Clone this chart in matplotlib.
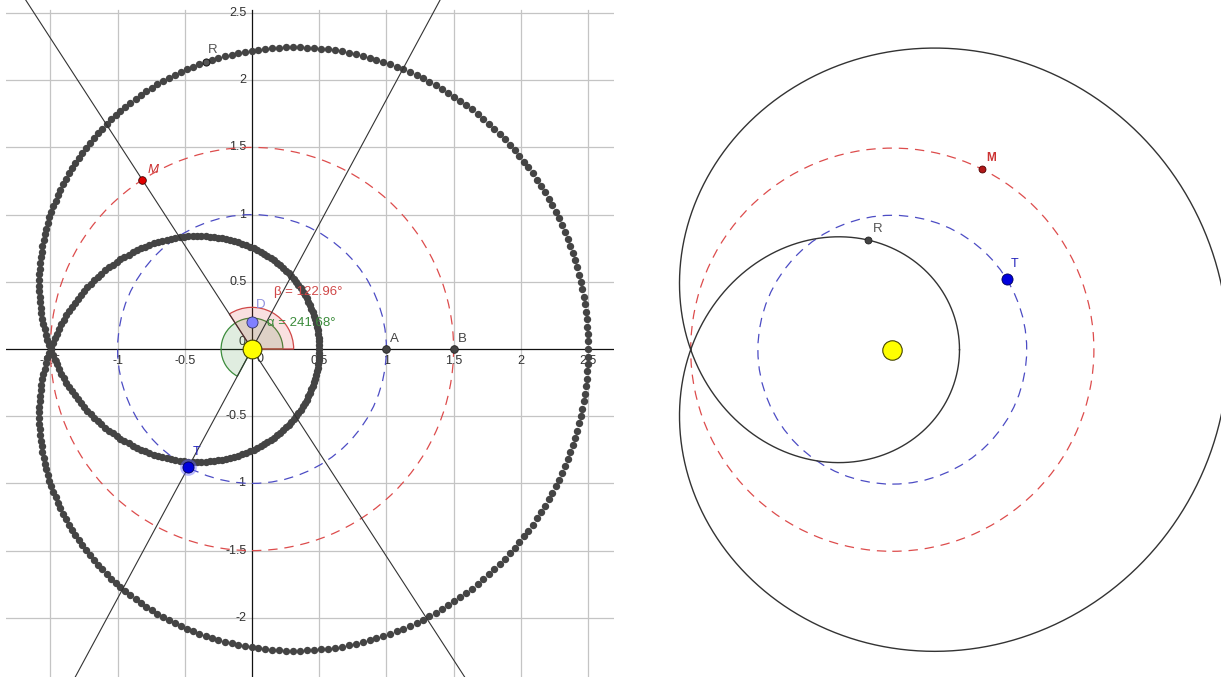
import numpy as np
import matplotlib
matplotlib.use("Agg")
import matplotlib.pyplot as plt
from matplotlib.patches import Circle, Wedge

plt.rcParams['font.family'] = ['Liberation Sans', 'DejaVu Sans']

# ---------------- data ----------------
earth_radius = 1.0          # blue dashed orbit (T)
mars_radius = 1.5           # red dashed orbit (M)
speed_ratio = 2.0           # Mars angle = 2 x Earth angle along the traced locus R = M - T

left_earth_deg = 241.68     # alpha
left_mars_deg = 122.96      # beta
right_earth_deg = 31.7
right_mars_deg = 63.5

point_A = (1.0, 0.0)
point_B = (1.5, 0.0)
point_D = (0.0, 0.2)

x_ticks = [-1.5, -1, -0.5, 0.5, 1, 1.5, 2, 2.5]
x_tick_labels = ['-1.5', '-1', '-0.5', '0.5', '1', '1.5', '2', '2.5']
y_ticks = [-2, -1.5, -1, -0.5, 0.5, 1, 1.5, 2, 2.5]
y_tick_labels = ['-2', '-1.5', '-1', '-0.5', '0.5', '1', '1.5', '2', '2.5']
grid_x = [-1.5, -1, -0.5, 0.5, 1, 1.5, 2, 2.5]
grid_y = [-2, -1.5, -1, -0.5, 0.5, 1, 1.5, 2, 2.5]

beta_label = 'β = 122.96°'
alpha_label = 'α = 241.68°'

# ---------------- styles ----------------
W, H = 1221, 677
S = 134.4  # px per unit
RED_D = '#dd4c4c'
BLUE_D = '#4c4cc4'
DASH = (0, (7.5, 5.5))
DOT = '#444444'

fig = plt.figure(figsize=(W / 100, H / 100), dpi=100)


def pol(r, deg):
    t = np.deg2rad(deg)
    return r * np.cos(t), r * np.sin(t)


def locus(step_deg):
    phi = np.arange(0, 360, step_deg)
    mx, my = pol(mars_radius, speed_ratio * phi)
    ex, ey = pol(earth_radius, phi)
    return mx - ex, my - ey


# ================= LEFT PANEL =================
lx0, lx1 = 6, 614
ox, oy = 252, 349
axL = fig.add_axes([lx0 / W, 0, (lx1 - lx0) / W, 1])
axL.set_xlim((lx0 - ox) / S, (lx1 - ox) / S)
axL.set_ylim((oy - H) / S, oy / S)
axL.axis('off')
ymin_l, ymax_l = (oy - H) / S, oy / S
xmin_l, xmax_l = (lx0 - ox) / S, (lx1 - ox) / S
gtop = 2.52

for gx in grid_x:
    axL.plot([gx, gx], [ymin_l, gtop], color='#c4c4c4', lw=0.9, zorder=1)
for gy in grid_y:
    axL.plot([xmin_l, xmax_l], [gy, gy], color='#c4c4c4', lw=0.9, zorder=1)
axL.plot([xmin_l, xmax_l], [0, 0], color='#111111', lw=0.9, zorder=2)
axL.plot([0, 0], [ymin_l, gtop], color='#111111', lw=0.9, zorder=2)

for v, s in zip(x_ticks, x_tick_labels):
    axL.annotate(s, (v, 0), xytext=(0, -9), textcoords='offset points',
                 ha='center', va='center', fontsize=9, color='#333333', zorder=3)
for v, s in zip(y_ticks, y_tick_labels):
    axL.annotate(s, (0, v), xytext=(-4, 0), textcoords='offset points',
                 ha='right', va='center', fontsize=9, color='#333333', zorder=3)
axL.annotate('0', (0, 0), xytext=(-7, 5), textcoords='offset points',
             ha='center', va='center', fontsize=9, color='#333333', zorder=3)
axL.annotate('0', (0, 0), xytext=(6, -7), textcoords='offset points',
             ha='center', va='center', fontsize=9, color='#333333', zorder=3)

# orbits
axL.add_patch(Circle((0, 0), earth_radius, fill=False, ec=BLUE_D, lw=0.9, ls=DASH, zorder=3))
axL.add_patch(Circle((0, 0), mars_radius, fill=False, ec=RED_D, lw=0.9, ls=DASH, zorder=3))

# angle sectors
axL.add_patch(Wedge((0, 0), 0.23, 0, left_earth_deg, fc=(0.2, 0.55, 0.2, 0.15),
                    ec='#3c8c3c', lw=0.9, zorder=4))
axL.add_patch(Wedge((0, 0), 0.31, 0, left_mars_deg, fc=(0.85, 0.2, 0.2, 0.15),
                    ec='#d04848', lw=0.9, zorder=4))

# traced locus (dots)
tx, ty = locus(0.8)
axL.plot(tx, ty, 'o', ms=5.3, color=DOT, mec=DOT, mew=0, zorder=5)

# lines through the Sun and M, the Sun and T
Tx, Ty = pol(earth_radius, left_earth_deg)
Mx, My = pol(mars_radius, left_mars_deg)
for px, py in [(Tx, Ty), (Mx, My)]:
    k = 10.0
    axL.plot([-k * px, k * px], [-k * py, k * py], color='#333333', lw=0.8, zorder=6)

# R = M - T
Rx, Ry = Mx - Tx, My - Ty
axL.plot(Rx, Ry, 'o', ms=5, mfc='#555555', mec='#222222', mew=0.8, zorder=8)
axL.annotate('R', (Rx, Ry), xytext=(5, 8), textcoords='offset points',
             ha='center', va='center', fontsize=9.5, color='#555555', zorder=9)

# M
axL.plot(Mx, My, 'o', ms=5.5, mfc='#e00000', mec='#400000', mew=0.6, zorder=8)
axL.annotate('M', (Mx, My), xytext=(8, 7), textcoords='offset points',
             ha='center', va='center', fontsize=9.5, color='#cc3333', style='italic', zorder=9)

# T
axL.plot(Tx, Ty, 'o', ms=12, mfc=(0.4, 0.4, 1.0, 0.45), mec='none', zorder=8)
axL.plot(Tx, Ty, 'o', ms=8, mfc='#0000dd', mec='#000055', mew=0.6, zorder=9)
axL.annotate('T', (Tx, Ty), xytext=(6, 11), textcoords='offset points',
             ha='center', va='center', fontsize=9, color='#2222bb', zorder=9)

# A, B
for (px, py), lab in [(point_A, 'A'), (point_B, 'B')]:
    axL.plot(px, py, 'o', ms=5.5, mfc='#444444', mec='#222222', mew=0.6, zorder=8)
    axL.annotate(lab, (px, py), xytext=(6, 7), textcoords='offset points',
                 ha='center', va='center', fontsize=9.5, color='#444444', zorder=9)

# D
axL.plot(point_D[0], point_D[1], 'o', ms=8, mfc='#8080ff', mec='#333366', mew=0.6, zorder=8)
axL.annotate('D', point_D, xytext=(6, 12), textcoords='offset points',
             ha='center', va='center', fontsize=9.5, color='#9090dd', zorder=9)

# angle labels
axL.annotate(beta_label, (0, 0), xytext=(16, 41), textcoords='offset points',
             ha='left', va='center', fontsize=9.5, color='#d04848', zorder=9)
axL.annotate(alpha_label, (0, 0), xytext=(10.5, 18.5), textcoords='offset points',
             ha='left', va='center', fontsize=9.5, color='#3c8c3c', zorder=9)

# Sun
axL.plot(0, 0, 'o', ms=13.5, mfc='#ffff00', mec='#444400', mew=0.8, zorder=10)

# ================= RIGHT PANEL =================
rx0, rx1 = 616, W
sx, sy = 892.3, 349.7
axR = fig.add_axes([rx0 / W, 0, (rx1 - rx0) / W, 1])
axR.set_xlim((rx0 - sx) / S, (rx1 - sx) / S)
axR.set_ylim((sy - H) / S, sy / S)
axR.axis('off')

axR.add_patch(Circle((0, 0), earth_radius, fill=False, ec=BLUE_D, lw=0.9, ls=DASH, zorder=3))
axR.add_patch(Circle((0, 0), mars_radius, fill=False, ec=RED_D, lw=0.9, ls=DASH, zorder=3))
cx, cy = locus(0.25)
axR.plot(np.append(cx, cx[0]), np.append(cy, cy[0]), color='#333333', lw=1.0, zorder=4)

Tx2, Ty2 = pol(earth_radius, right_earth_deg)
Mx2, My2 = pol(mars_radius, right_mars_deg)
Rx2, Ry2 = Mx2 - Tx2, My2 - Ty2

axR.plot(Rx2, Ry2, 'o', ms=5, mfc='#444444', mec='#222222', mew=0.6, zorder=8)
axR.annotate('R', (Rx2, Ry2), xytext=(7, 8), textcoords='offset points',
             ha='center', va='center', fontsize=9.5, color='#555555', zorder=9)
axR.plot(Mx2, My2, 'o', ms=5, mfc='#b01818', mec='#500000', mew=0.6, zorder=8)
axR.annotate('M', (Mx2, My2), xytext=(6.5, 8), textcoords='offset points',
             ha='center', va='center', fontsize=8.5, color='#cc3333', fontweight='bold', zorder=9)
axR.plot(Tx2, Ty2, 'o', ms=8, mfc='#0000dd', mec='#000055', mew=0.6, zorder=8)
axR.annotate('T', (Tx2, Ty2), xytext=(6, 10.5), textcoords='offset points',
             ha='center', va='center', fontsize=9, color='#2222bb', zorder=9)
axR.plot(0, 0, 'o', ms=14, mfc='#ffff00', mec='#444400', mew=0.8, zorder=10)

fig.savefig('out.png', dpi=100, facecolor='white')
